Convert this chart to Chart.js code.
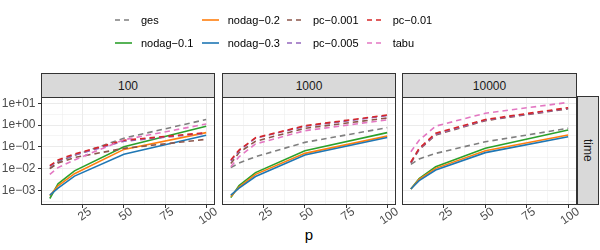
<!DOCTYPE html>
<html>
<head>
<meta charset="utf-8">
<script src="https://cdn.jsdelivr.net/npm/chart.js@4.4.1/dist/chart.umd.min.js"></script>
<style>
  html, body { margin: 0; padding: 0; background: #fff; }
  #wrap { position: relative; width: 600px; height: 250px; overflow: hidden;
          font-family: "Liberation Sans", Arial, sans-serif; }
  #wrap canvas { position: absolute; left: 0; top: 0; }
  .strip { position: absolute; box-sizing: border-box; background: #d9d9d9;
           border: 1px solid #333; color: #1a1a1a; font-size: 12px;
           display: flex; align-items: center; justify-content: center; }
  .vstrip span { writing-mode: vertical-rl; }
  .lg { position: absolute; height: 16px; display: flex; align-items: center;
        font-size: 11px; color: #000; white-space: nowrap; }
  .lg svg { margin-right: 9px; }
  #xtitle { position: absolute; left: 0; width: 618px; top: 226px; text-align: center;
            font-size: 15px; color: #000; }
</style>
</head>
<body>
<div id="wrap">
  <div id="xtitle">p</div>
</div>
<script>
(() => {
  // x values and facet labels
  const p = [5, 10, 20, 50, 100];
  const facets = ["100", "1000", "10000"];
  const xTicks = [25, 50, 75, 100];

  const methods = ["ges", "nodag−0.1", "nodag−0.2", "nodag−0.3",
                   "pc−0.001", "pc−0.005", "pc−0.01", "tabu"];
  const colors = ["#7f7f7f", "#2ca02c", "#ff7f0e", "#1f77b4",
                  "#8c564b", "#9467bd", "#d62728", "#e377c2"];
  const dashed = [true, false, false, false, true, true, true, true];

  // time per method, one row per facet (100, 1000, 10000)
  const ges = [
    [0.010, 0.020, 0.040, 0.25, 1.8],
    [0.011, 0.018, 0.035, 0.16, 0.76],
    [0.0155, 0.0275, 0.050, 0.17, 0.71]
  ];
  const nodag01 = [
    [0.00042, 0.0020, 0.0078, 0.10, 0.89],
    [0.00046, 0.00166, 0.0065, 0.066, 0.45],
    [0.00115, 0.0035, 0.012, 0.085, 0.59]
  ];
  const nodag02 = [
    [0.00056, 0.0016, 0.0058, 0.076, 0.45],
    [0.00052, 0.0014, 0.0054, 0.050, 0.31],
    [0.00115, 0.0032, 0.0102, 0.066, 0.35]
  ];
  const nodag03 = [
    [0.0006, 0.00126, 0.0045, 0.045, 0.34],
    [0.0006, 0.00126, 0.0043, 0.042, 0.27],
    [0.00115, 0.0028, 0.0085, 0.054, 0.29]
  ];
  const pc0001 = [
    [0.010, 0.018, 0.032, 0.085, 0.22],
    [0.017, 0.054, 0.18, 0.71, 2.1],
    [0.018, 0.074, 0.35, 1.6, 5.6]
  ];
  const pc0005 = [
    [0.0126, 0.023, 0.042, 0.18, 0.42],
    [0.022, 0.066, 0.25, 0.87, 2.7],
    [0.019, 0.079, 0.38, 1.7, 5.9]
  ];
  const pc001 = [
    [0.0135, 0.025, 0.047, 0.20, 0.45],
    [0.025, 0.071, 0.26, 0.93, 2.9],
    [0.020, 0.085, 0.42, 1.8, 6.3]
  ];
  const tabu = [
    [0.0054, 0.011, 0.025, 0.21, 1.12],
    [0.012, 0.035, 0.135, 0.55, 1.74],
    [0.059, 0.20, 0.89, 3.5, 11]
  ];
  const series = [ges, nodag01, nodag02, nodag03, pc0001, pc0005, pc001, tabu];

  const FONT = '"Liberation Sans", Arial, sans-serif';
  const wrap = document.getElementById("wrap");

  // panel placement
  const panelLeft = [42, 223, 403];
  const panelRight = [214, 395, 576];
  const panelTop = 97, panelBottom = 204;

  const isDecade = v => Math.abs(Math.log10(v) - Math.round(Math.log10(v))) < 1e-6;
  const sciLabel = v => {
    const e = Math.round(Math.log10(v));
    return "1e" + (e < 0 ? "−" : "+") + String(Math.abs(e)).padStart(2, "0");
  };

  const frame = {
    id: "frame",
    afterDraw(chart) {
      const { ctx, chartArea: a } = chart;
      ctx.save();
      ctx.strokeStyle = "#333";
      ctx.lineWidth = 1;
      ctx.strokeRect(a.left - 0.5, a.top - 0.5, a.right - a.left + 1, a.bottom - a.top + 1);

      // rotated x tick labels
      const sx = chart.scales.x;
      const ang = 35 * Math.PI / 180;
      ctx.font = "12px " + FONT;
      ctx.fillStyle = "#4d4d4d";
      ctx.textAlign = "center";
      ctx.textBaseline = "middle";
      xTicks.forEach(v => {
        const label = String(v);
        const w = ctx.measureText(label).width;
        const cx = sx.getPixelForValue(v) + 2;
        const cy = a.bottom + 3 + (w * Math.sin(ang) + 8.6 * Math.cos(ang)) / 2;
        ctx.save();
        ctx.translate(cx, cy);
        ctx.rotate(-ang);
        ctx.fillText(label, 0, 0);
        ctx.restore();
      });
      ctx.restore();
    }
  };

  facets.forEach((facet, f) => {
    const canvas = document.createElement("canvas");
    canvas.width = 600;
    canvas.height = 250;
    wrap.appendChild(canvas);

    const first = f === 0;
    const yW = first ? 42 : 0;

    const datasets = methods.map((m, i) => ({
      label: m,
      data: p.map((x, k) => ({ x, y: series[i][f][k] })),
      borderColor: colors[i],
      borderWidth: 1.6,
      borderDash: dashed[i] ? [5.5, 4] : [],
      pointRadius: 0,
      tension: 0,
      fill: false,
      order: methods.length - i
    }));

    new Chart(canvas, {
      type: "line",
      data: { datasets },
      plugins: [frame],
      options: {
        responsive: false,
        animation: false,
        devicePixelRatio: 1,
        events: [],
        layout: {
          padding: { left: panelLeft[f] - yW, right: 600 - panelRight[f], top: panelTop, bottom: 0 }
        },
        plugins: { legend: { display: false }, tooltip: { enabled: false } },
        scales: {
          x: {
            type: "linear",
            min: 0.25,
            max: 104.75,
            afterBuildTicks: s => {
              s.ticks = [12.5, 25, 37.5, 50, 62.5, 75, 87.5, 100].map(value => ({ value }));
            },
            afterFit: s => { s.height = 250 - panelBottom; },
            ticks: { display: false },
            border: { display: false },
            grid: {
              color: "#ebebeb",
              lineWidth: c => (c.tick && c.tick.value % 25 === 0 ? 1 : 0.5),
              drawTicks: true,
              tickLength: 4,
              tickWidth: 1,
              tickColor: c => (c.tick && c.tick.value % 25 === 0 ? "#333" : "rgba(0,0,0,0)")
            }
          },
          y: {
            type: "logarithmic",
            min: Math.pow(10, -3.63),
            max: Math.pow(10, 1.29),
            afterBuildTicks: s => {
              s.ticks = [-3.5, -3, -2.5, -2, -1.5, -1, -0.5, 0, 0.5, 1]
                .map(e => ({ value: Math.pow(10, e) }));
            },
            afterFit: s => { s.width = yW; },
            border: { display: false },
            ticks: {
              display: first,
              autoSkip: false,
              padding: 2.5,
              color: "#4d4d4d",
              font: { family: FONT, size: 12 },
              callback: v => (isDecade(v) ? sciLabel(v) : "")
            },
            grid: {
              color: "#ebebeb",
              lineWidth: c => (c.tick && isDecade(c.tick.value) ? 1 : 0.5),
              drawTicks: first,
              tickLength: 4,
              tickWidth: 1,
              tickColor: c => (c.tick && isDecade(c.tick.value) ? "#333" : "rgba(0,0,0,0)")
            }
          }
        }
      }
    });

    const strip = document.createElement("div");
    strip.className = "strip";
    strip.style.left = panelLeft[f] - 1 + "px";
    strip.style.width = panelRight[f] - panelLeft[f] + 2 + "px";
    strip.style.top = "73px";
    strip.style.height = "25px";
    strip.textContent = facet;
    wrap.appendChild(strip);
  });

  // right-hand strip
  const vs = document.createElement("div");
  vs.className = "strip vstrip";
  vs.style.left = "577px";
  vs.style.width = "22px";
  vs.style.top = panelTop - 1 + "px";
  vs.style.height = panelBottom - panelTop + 2 + "px";
  vs.innerHTML = "<span>time</span>";
  wrap.appendChild(vs);

  // legend, filled column by column
  const colKey = [115, 201.7, 287, 366.7];
  const rowMid = [20, 43.3];
  methods.forEach((m, i) => {
    const col = Math.floor(i / 2), row = i % 2;
    const item = document.createElement("div");
    item.className = "lg";
    item.style.left = colKey[col] + "px";
    item.style.top = rowMid[row] - 8 + "px";
    item.innerHTML =
      '<svg width="17" height="16"><line x1="0" y1="8" x2="17" y2="8" stroke="' + colors[i] +
      '" stroke-width="1.6"' + (dashed[i] ? ' stroke-dasharray="5,4"' : "") + "/></svg>" +
      "<span>" + m + "</span>";
    wrap.appendChild(item);
  });
})();
</script>
</body>
</html>
